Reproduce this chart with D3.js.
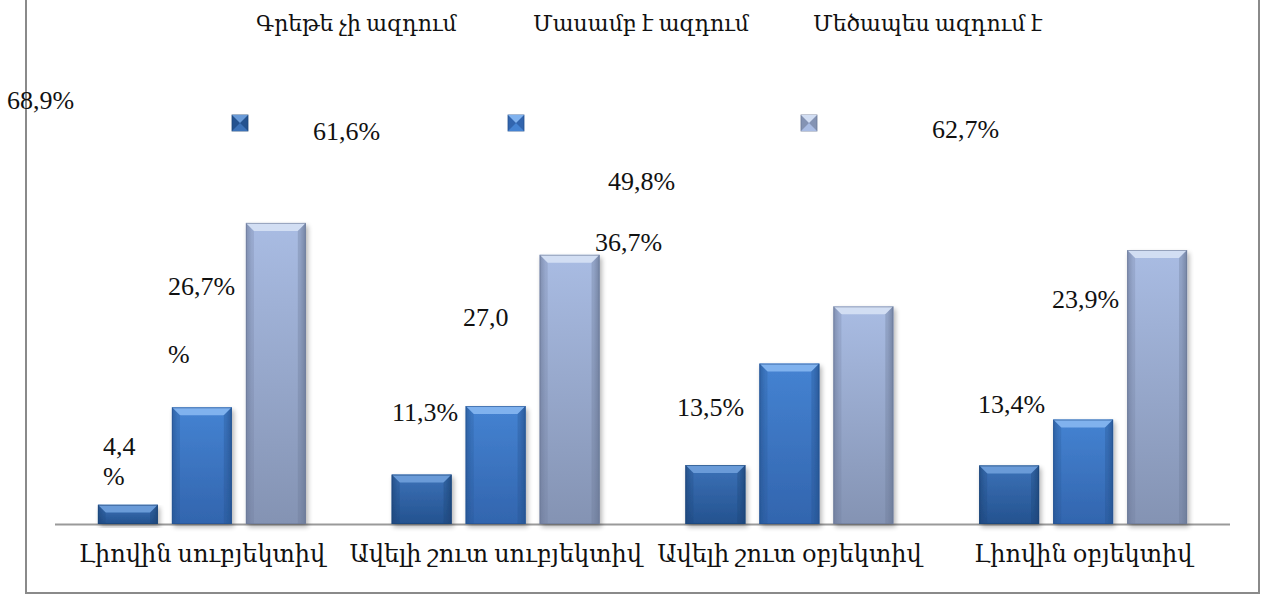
<!DOCTYPE html>
<html>
<head>
<meta charset="utf-8">
<script src="https://cdn.jsdelivr.net/npm/d3@7"></script>
<style>
  html, body { margin: 0; padding: 0; background: #fff; }
  svg { display: block; font-family: "Liberation Serif", "DejaVu Serif", serif; }
</style>
</head>
<body>
<svg id="chart" width="1261" height="595"></svg>
<script>
(function() {

  const categories = ['Լիովին սուբյեկտիվ', 'Ավելի շուտ սուբյեկտիվ', 'Ավելի շուտ օբյեկտիվ', 'Լիովին օբյեկտիվ'];
  const seriesNames = ['Գրեթե չի ազդում', 'Մասամբ է ազդում', 'Մեծապես ազդում է'];
  const almostNone = [4.4, 11.3, 13.5, 13.4];
  const partly = [26.7, 27.0, 36.7, 23.9];
  const greatly = [68.9, 61.6, 49.8, 62.7];
  const seriesValues = [almostNone, partly, greatly];

  // label spots as in the source picture (they are scattered, not on the bars)
  // [series][category] -> left x, baseline y, how the text was broken
  const labelSpots = [
    [{x: 103, y: 455, mode: 'wrap'}, {x: 392, y: 421}, {x: 677, y: 416}, {x: 978, y: 413}],
    [{x: 168, y: 295, mode: 'extra'}, {x: 463, y: 326, mode: 'bare'}, {x: 595, y: 251}, {x: 1052, y: 308}],
    [{x: 7, y: 109}, {x: 313, y: 140}, {x: 608, y: 190}, {x: 932, y: 138}]
  ];
  const legendTextX = [256, 533, 813];
  const legendMarkX = [232, 508, 801];

  const colors = [
    {top: '#3c72b8', bot: '#24528f', bevel: '#6a9bd8', side: '#1d4476'},
    {top: '#4583d2', bot: '#3265ae', bevel: '#80b2ee', side: '#25528f'},
    {top: '#a9bce3', bot: '#8493b3', bevel: '#d2def3', side: '#6a7896'}
  ];

  const svg = d3.select('#chart');
  const defs = svg.append('defs');

  const base = 524;
  const left = 55, right = 1230;

  const x0 = d3.scaleBand().domain(d3.range(categories.length)).range([left, right]);
  const x1 = d3.scaleBand().domain(d3.range(seriesNames.length))
    .range([0, x0.bandwidth()]).paddingInner(0.19).paddingOuter(0.58);
  const y = d3.scaleLinear().domain([0, 100]).range([base, 87]);

  colors.forEach((c, i) => {
    const g = defs.append('linearGradient').attr('id', 'grad' + i)
      .attr('x1', 0).attr('y1', 0).attr('x2', 0).attr('y2', 1);
    g.append('stop').attr('offset', '0%').attr('stop-color', c.top);
    g.append('stop').attr('offset', '100%').attr('stop-color', c.bot);
    const h = defs.append('linearGradient').attr('id', 'side' + i)
      .attr('x1', 0).attr('y1', 0).attr('x2', 1).attr('y2', 0);
    h.append('stop').attr('offset', '0%').attr('stop-color', c.side).attr('stop-opacity', 0.55);
    h.append('stop').attr('offset', '10%').attr('stop-color', c.side).attr('stop-opacity', 0);
    h.append('stop').attr('offset', '90%').attr('stop-color', c.side).attr('stop-opacity', 0);
    h.append('stop').attr('offset', '100%').attr('stop-color', c.side).attr('stop-opacity', 0.7);
  });

  const shadow = defs.append('filter').attr('id', 'shadow')
    .attr('x', '-10%').attr('y', '-10%').attr('width', '130%').attr('height', '130%');
  shadow.append('feGaussianBlur').attr('in', 'SourceAlpha').attr('stdDeviation', 2.5);
  shadow.append('feOffset').attr('dx', 2).attr('dy', 3).attr('result', 'b');
  shadow.append('feComponentTransfer').append('feFuncA').attr('type', 'linear').attr('slope', 0.3);
  const mrg = shadow.append('feMerge');
  mrg.append('feMergeNode');
  mrg.append('feMergeNode').attr('in', 'SourceGraphic');

  // frame
  svg.append('rect')
    .attr('x', 26).attr('y', -4).attr('width', 1233).attr('height', 597)
    .attr('fill', 'none').attr('stroke', '#8a8a8a').attr('stroke-width', 2);

  // baseline
  svg.append('line')
    .attr('x1', left).attr('x2', right).attr('y1', base + 0.5).attr('y2', base + 0.5)
    .attr('stroke', '#9a9a9a').attr('stroke-width', 2);

  function bevelBar(g, bx, by, w, h, si) {
    const c = colors[si];
    const b = Math.min(8, h / 2.5);
    const grp = g.append('g').attr('filter', 'url(#shadow)');
    grp.append('rect').attr('x', bx).attr('y', by).attr('width', w).attr('height', h)
      .attr('fill', `url(#grad${si})`);
    grp.append('rect').attr('x', bx).attr('y', by).attr('width', w).attr('height', h)
      .attr('fill', `url(#side${si})`);
    // top bevel
    grp.append('path')
      .attr('d', `M${bx},${by} L${bx + w},${by} L${bx + w - b},${by + b} L${bx + b},${by + b} Z`)
      .attr('fill', c.bevel);
    grp.append('path')
      .attr('d', `M${bx},${by} L${bx + b},${by + b} L${bx + b},${by + h} L${bx},${by + h} Z`)
      .attr('fill', c.side).attr('opacity', 0.25);
    grp.append('path')
      .attr('d', `M${bx + w},${by} L${bx + w - b},${by + b} L${bx + w - b},${by + h} L${bx + w},${by + h} Z`)
      .attr('fill', c.side).attr('opacity', 0.35);
    grp.append('rect').attr('x', bx + 0.5).attr('y', by + 0.5).attr('width', w - 1).attr('height', h - 1)
      .attr('fill', 'none').attr('stroke', c.side).attr('stroke-opacity', 0.6);
  }

  const bars = svg.append('g');
  seriesValues.forEach((vals, si) => {
    vals.forEach((v, ci) => {
      const bx = x0(ci) + x1(si);
      const by = y(v);
      bevelBar(bars, bx, by, x1.bandwidth(), base - by, si);
    });
  });

  // data labels
  const fmt = v => d3.format('.1f')(v).replace('.', ',');
  const labels = svg.append('g').attr('font-size', 26).attr('fill', '#111');
  seriesValues.forEach((vals, si) => {
    vals.forEach((v, ci) => {
      const spot = labelSpots[si][ci];
      let lines = [fmt(v) + '%'];
      if (spot.mode === 'wrap') lines = [fmt(v), '%'];
      if (spot.mode === 'extra') lines = [fmt(v) + '%', '%'];
      if (spot.mode === 'bare') lines = [fmt(v)];
      const gap = spot.mode === 'extra' ? 68 : 30;
      lines.forEach((t, li) => {
        labels.append('text').attr('x', spot.x).attr('y', spot.y + li * gap).text(t);
      });
    });
  });

  // legend
  const legend = svg.append('g');
  seriesNames.forEach((name, si) => {
    legend.append('text').attr('x', legendTextX[si]).attr('y', 31)
      .attr('font-size', 22).attr('fill', '#111').text(name);
    const mx = legendMarkX[si], my = 115, s = 16, c = colors[si];
    legend.append('rect').attr('x', mx).attr('y', my).attr('width', s).attr('height', s)
      .attr('fill', c.bot).attr('stroke', c.side).attr('stroke-width', 0.8);
    legend.append('path')
      .attr('d', `M${mx},${my} L${mx + s},${my} L${mx + s / 2},${my + s / 2} Z`)
      .attr('fill', c.bevel);
    legend.append('path')
      .attr('d', `M${mx},${my + s} L${mx + s},${my + s} L${mx + s / 2},${my + s / 2} Z`)
      .attr('fill', c.top);
  });

  // category axis labels
  const axis = d3.axisBottom(x0).tickSize(0).tickFormat(i => categories[i]);
  const ax = svg.append('g').attr('transform', `translate(0,${base})`).call(axis);
  ax.select('.domain').remove();
  ax.selectAll('text').attr('font-size', 24).attr('fill', '#111')
    .attr('font-family', '"Liberation Serif", "DejaVu Serif", serif')
    .attr('dy', 0).attr('y', 38);

})();
</script>
</body>
</html>
